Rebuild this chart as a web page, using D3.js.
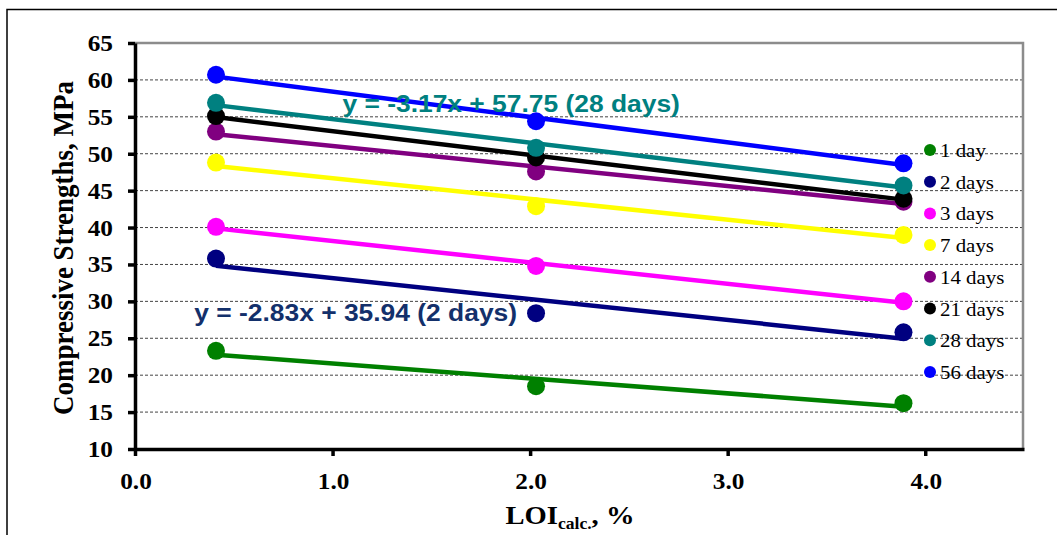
<!DOCTYPE html>
<html>
<head>
<meta charset="utf-8">
<script src="https://cdn.jsdelivr.net/npm/d3@7"></script>
<style>
  body { margin: 0; background: #fff; }
  svg { display: block; }
</style>
</head>
<body>
<div id="chart"></div>
<script>
// data
let loi = [0.41, 2.03, 3.89];
let seriesNames = ["1 day", "2 days", "3 days", "7 days", "14 days", "21 days", "28 days", "56 days"];
let seriesColors = ["#008000", "#000080", "#ff00ff", "#ffff00", "#800080", "#000000", "#008080", "#0000ff"];
let day1 = [23.3, 18.5, 16.2];
let day2 = [35.8, 28.4, 25.8];
let day3 = [40.1, 34.8, 30.0];
let day7 = [48.8, 42.9, 39.0];
let day14 = [53.0, 47.6, 43.5];
let day21 = [55.1, 49.5, 43.9];
let day28 = [56.9, 50.8, 45.7];
let day56 = [60.7, 54.4, 48.7];
let yTicks = [10, 15, 20, 25, 30, 35, 40, 45, 50, 55, 60, 65];
let xTicks = [0, 1, 2, 3, 4];
let eqLabels = [
    { text: "y = -3.17x + 57.75 (28 days)", color: "#008080", x: 1.05, y: 55.7 },
    { text: "y = -2.83x + 35.94 (2 days)", color: "#13306b", x: 0.3, y: 27.3 }
];

let allValues = [day1, day2, day3, day7, day14, day21, day28, day56];

let width = 1057;
let height = 535;
let stretch = 1.1; // picture text is a bit wider than the fonts

let svg = d3.select("#chart").append("svg")
    .attr("width", width)
    .attr("height", height);

let x = d3.scaleLinear().domain([0, 4.5]).range([135, 1024]);
let y = d3.scaleLinear().domain([10, 65]).range([449, 43]);

// text helper, stretched sideways
function label(g, tx, ty, str) {
    return g.append("text")
        .attr("transform", `translate(${tx},${ty}) scale(${stretch},1)`)
        .text(str);
}

//outer frame
svg.append("rect")
    .attr("x", 7).attr("y", 9.5)
    .attr("width", 1200).attr("height", 700)
    .attr("fill", "none")
    .attr("stroke", "#000")
    .attr("stroke-width", 1.5);

//gridlines
svg.append("g").selectAll("line")
    .data(yTicks.filter(d => d > 10 && d < 65))
    .enter().append("line")
    .attr("x1", x(0)).attr("x2", x(4.5))
    .attr("y1", d => y(d)).attr("y2", d => y(d))
    .attr("stroke", "#444")
    .attr("stroke-width", 1)
    .attr("stroke-dasharray", "3,2");

//plot border top + right
svg.append("path")
    .attr("d", `M${x(0)},${y(65)}H${x(4.5) - 1}V${y(10)}`)
    .attr("fill", "none")
    .attr("stroke", "#8c8c8c")
    .attr("stroke-width", 2.5);

//axes
let yAxis = d3.axisLeft(y).tickValues(yTicks).tickSize(7).tickFormat("");
let xAxis = d3.axisBottom(x).tickValues(xTicks).tickSize(7).tickFormat("").tickSizeOuter(0);

svg.append("g")
    .attr("transform", `translate(0,${y(10)})`)
    .call(xAxis)
    .call(g => g.selectAll("line, path").attr("stroke", "#000").attr("stroke-width", 3.5));

svg.append("g")
    .attr("transform", `translate(${x(0)},0)`)
    .call(yAxis.tickSizeOuter(0))
    .call(g => g.selectAll("line, path").attr("stroke", "#000").attr("stroke-width", 3.5));

//tick labels
let tickG = svg.append("g")
    .attr("font-family", "'Liberation Serif', 'Times New Roman', serif")
    .attr("font-weight", "bold")
    .attr("font-size", 23);

yTicks.forEach(function(t) {
    label(tickG, 113, y(t) + 8, t).attr("text-anchor", "end");
});
xTicks.forEach(function(t) {
    label(tickG, x(t) + 1, 489, t.toFixed(1)).attr("text-anchor", "middle");
});

//axis titles
svg.append("text")
    .attr("transform", `translate(73,248) rotate(-90) scale(1,${stretch})`)
    .attr("text-anchor", "middle")
    .attr("font-family", "'Liberation Serif', 'Times New Roman', serif")
    .attr("font-weight", "bold")
    .attr("font-size", 27)
    .text("Compressive Strengths, MPa");

let xt = svg.append("text")
    .attr("transform", `translate(570,524) scale(${stretch},1)`)
    .attr("text-anchor", "middle")
    .attr("font-family", "'Liberation Serif', 'Times New Roman', serif")
    .attr("font-weight", "bold")
    .attr("font-size", 26);
xt.append("tspan").text("LOI");
xt.append("tspan").attr("font-size", 16).attr("dy", 5).text("calc.");
xt.append("tspan").attr("dy", -5).text(", %");

//least squares fit for each series
function fit(xs, ys) {
    let mx = d3.mean(xs), my = d3.mean(ys);
    let sxy = d3.sum(xs, (v, i) => (v - mx) * (ys[i] - my));
    let sxx = d3.sum(xs, v => (v - mx) * (v - mx));
    let b = sxy / sxx;
    return { slope: b, icpt: my - b * mx };
}

let series = seriesNames.map(function(n, i) {
    return { name: n, color: seriesColors[i], values: allValues[i], f: fit(loi, allValues[i]) };
});

let plot = svg.append("g");

series.forEach(function(s) {
    let g = plot.append("g");
    let x0 = d3.min(loi), x1 = d3.max(loi);
    g.append("line")
        .attr("x1", x(x0)).attr("y1", y(s.f.icpt + s.f.slope * x0))
        .attr("x2", x(x1)).attr("y2", y(s.f.icpt + s.f.slope * x1))
        .attr("stroke", s.color)
        .attr("stroke-width", 4.5);

    g.selectAll("circle")
        .data(s.values)
        .enter().append("circle")
        .attr("cx", (d, i) => x(loi[i]))
        .attr("cy", d => y(d))
        .attr("r", 9)
        .attr("fill", s.color);
});

//legend
let legend = svg.append("g")
    .attr("font-family", "'Liberation Serif', 'Times New Roman', serif")
    .attr("font-size", 19);

series.forEach(function(s, i) {
    let ly = 150 + i * 31.7;
    legend.append("circle")
        .attr("cx", 930).attr("cy", ly)
        .attr("r", 6)
        .attr("fill", s.color);
    label(legend, 940, ly + 7, s.name);
});

//equation labels
let eqG = svg.append("g")
    .attr("font-family", "'Liberation Sans', Arial, sans-serif")
    .attr("font-weight", "bold")
    .attr("font-size", 24);

eqLabels.forEach(function(e) {
    label(eqG, x(e.x), y(e.y), e.text).attr("fill", e.color);
});
</script>
</body>
</html>
